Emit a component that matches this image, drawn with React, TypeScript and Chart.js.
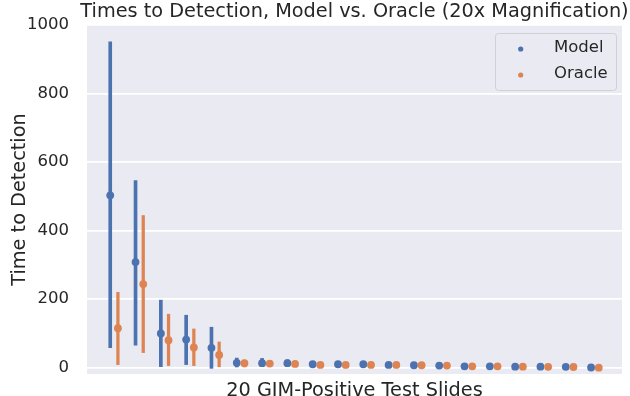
import React, { useEffect, useRef } from "react";
import { Chart, registerables } from "chart.js";

Chart.register(...registerables);

const categories: number[] = Array.from({ length: 20 }, (_, i) => i);
const modelMean = [503, 308, 100, 82, 58, 14, 13, 13, 10, 10, 10, 8, 7, 6, 4, 4, 3, 3, 2.5, 0.5];
const modelLow = [58, 66, 3, 9, -2, 2, 3, 5, 5, 6, 6, 5, 4, 3, 2, 2, 1, 1, 1, 0];
const modelHigh = [951, 546, 197, 153, 118, 28, 27, 23, 16, 14, 13, 11, 10, 9, 7, 7, 6, 5, 4, 1];
const oracleMean = [115, 244, 80, 59, 37, 13, 12, 11, 8, 8, 8, 8, 7, 6, 4, 4, 3, 2.5, 2, 0];
const oracleLow = [9, 44, 6, 6, 0, 2, 3, 4, 4, 5, 5, 5, 4, 3, 2, 2, 1, 1, 0.5, 0];
const oracleHigh = [220, 444, 156, 113, 75, 22, 20, 17, 13, 11, 11, 11, 10, 9, 7, 6, 5, 4, 3, 1];
const yTicks = [0, 200, 400, 600, 800, 1000];
const seriesNames = ["Model", "Oracle"];
const titleText = "Times to Detection, Model vs. Oracle (20x Magnification)";
const xLabel = "20 GIM-Positive Test Slides";
const yLabel = "Time to Detection";

const BLUE = "#4c72b0";
const ORANGE = "#dd8452";
const DODGE = 0.152;
const FONT = "DejaVu Sans";
const TEXT = "#262626";

export default function App() {
  const ref = useRef<HTMLCanvasElement | null>(null);
  useEffect(() => {
    if (!ref.current) return;
    const bg = {
      id: "bg",
      beforeDraw(chart: any) {
        const { ctx, chartArea: a } = chart;
        ctx.save();
        ctx.fillStyle = "#eaeaf2";
        ctx.fillRect(a.left, a.top, a.right - a.left, a.bottom - a.top);
        ctx.restore();
      },
    };
    const decor = {
      id: "decor",
      afterDraw(chart: any) {
        const { ctx, chartArea: a } = chart;
        ctx.save();
        ctx.fillStyle = TEXT;
        ctx.font = `19.3px '${FONT}'`;
        ctx.textAlign = "center";
        ctx.textBaseline = "alphabetic";
        const cx = (a.left + a.right) / 2;
        ctx.fillText(titleText, cx, 16.7);
        ctx.fillText(xLabel, cx, 395.5);
        ctx.save();
        ctx.translate(25, (a.top + a.bottom) / 2);
        ctx.rotate(-Math.PI / 2);
        ctx.fillText(yLabel, 0, 0);
        ctx.restore();
        // legend
        ctx.font = `16.5px '${FONT}'`;
        ctx.textBaseline = "middle";
        const lx = 495.5, ly = 33.5, lw = 121, lh = 57;
        ctx.beginPath();
        (ctx as any).roundRect(lx, ly, lw, lh, 3);
        ctx.fillStyle = "rgba(234,234,242,0.8)";
        ctx.fill();
        ctx.strokeStyle = "#d0d0d6";
        ctx.lineWidth = 1;
        ctx.stroke();
        const cols = [BLUE, ORANGE];
        seriesNames.forEach((n, i) => {
          const y = 49 + i * 26;
          ctx.beginPath();
          ctx.arc(520.7, y, 2.6, 0, Math.PI * 2);
          ctx.fillStyle = cols[i];
          ctx.fill();
          ctx.fillStyle = TEXT;
          ctx.textAlign = "left";
          ctx.fillText(n, 554, y - 1.5);
        });
        ctx.restore();
      },
    };
    const chart = new Chart(ref.current, {
      type: "bar",
      data: {
        datasets: [
          {
            type: "bar",
            label: "ModelErr",
            data: categories.map((c, i) => ({ x: c - DODGE, y: [modelLow[i], modelHigh[i]] })) as any,
            backgroundColor: BLUE,
            barThickness: 3,
            grouped: false,
            order: 4,
          },
          {
            type: "line",
            label: seriesNames[0],
            data: categories.map((c, i) => ({ x: c - DODGE, y: modelMean[i] })),
            showLine: false,
            pointRadius: 3.9,
            pointBackgroundColor: BLUE,
            pointBorderWidth: 0,
            order: 3,
          },
          {
            type: "bar",
            label: "OracleErr",
            data: categories.map((c, i) => ({ x: c + DODGE, y: [oracleLow[i], oracleHigh[i]] })) as any,
            backgroundColor: ORANGE,
            barThickness: 2.6,
            grouped: false,
            order: 2,
          },
          {
            type: "line",
            label: seriesNames[1],
            data: categories.map((c, i) => ({ x: c + DODGE, y: oracleMean[i] })),
            showLine: false,
            pointRadius: 3.9,
            pointBackgroundColor: ORANGE,
            pointBorderWidth: 0,
            order: 1,
          },
        ] as any,
      },
      options: {
        animation: false,
        responsive: false,
        maintainAspectRatio: false,
        layout: { autoPadding: false, padding: { left: 0, right: 8, top: 25, bottom: 22 } },
        plugins: { legend: { display: false }, tooltip: { enabled: false }, title: { display: false } },
        scales: {
          x: {
            type: "linear",
            min: -1.07,
            max: 20.07,
            offset: false,
            display: false,
          },
          y: {
            type: "linear",
            min: -18.5,
            max: 1000,
            afterBuildTicks: (s: any) => {
              s.ticks = yTicks.map((v) => ({ value: v }));
            },
            afterFit: (s: any) => {
              s.width = 87;
              s.paddingTop = 0;
              s.paddingBottom = 0;
            },
            grid: { color: "#ffffff", lineWidth: 1.7, drawTicks: false },
            border: { display: false },
            ticks: {
              padding: 18,
              color: TEXT,
              font: { family: FONT, size: 16.5 },
              callback: (v: any) => String(v),
            },
          },
        },
      },
      plugins: [bg, decor],
    } as any);
    return () => chart.destroy();
  }, []);
  return (
    <div style={{ position: "absolute", left: 0, top: 0, width: 630, height: 396, background: "#fff" }}>
      <canvas ref={ref} width={630} height={396} style={{ width: 630, height: 396 }} />
    </div>
  );
}
